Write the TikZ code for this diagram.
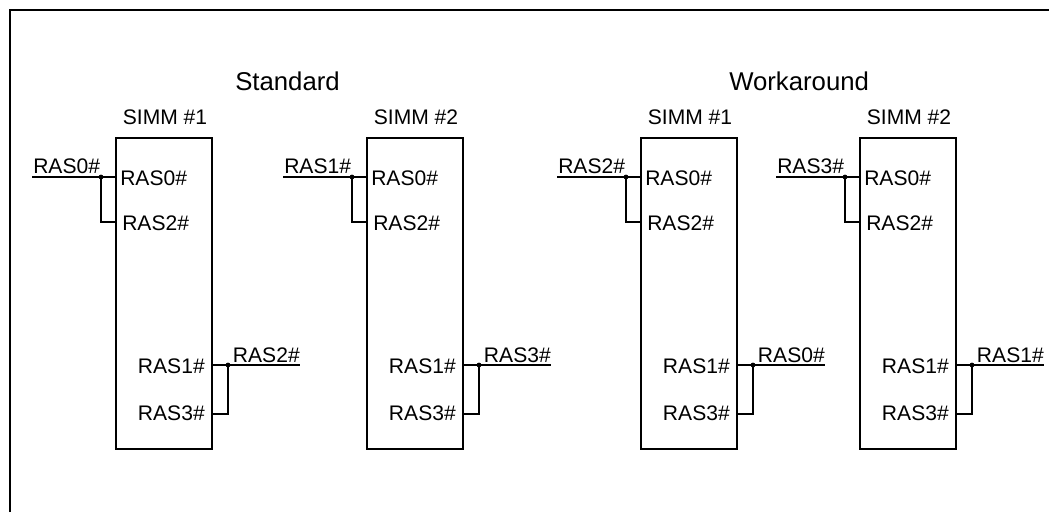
\documentclass[tikz,border=0pt]{standalone}
\usepackage{fontspec}
\setmainfont{Liberation Sans}
\usepackage{tikz}
\usetikzlibrary{positioning,calc}

\begin{document}
\begin{tikzpicture}[
  x=0.75pt, y=-0.75pt,
  simm/.style={draw, line width=1.3pt, outer sep=0pt, minimum width=72pt, minimum height=233.25pt, inner sep=0pt},
  wire/.style={line width=1.3pt},
  pin/.style={font=\fontsize{15.8pt}{18pt}\selectfont, inner sep=0pt},
  title/.style={font=\fontsize{19.3pt}{22pt}\selectfont, inner sep=0pt, anchor=base west},
  dot/.style={circle, fill, inner sep=0pt, minimum size=3.6pt}
]
\useasboundingbox (0,0) rectangle (1049,512);
% Frame
\coordinate (FTR) at (1049,10);
\coordinate (FTL) at (10,10);
\coordinate (FBL) at (10,512);
\draw[line width=1.5pt] (FBL) -- (FTL) -- (FTR);

% Group titles
\node[title] (Std) at (235,90) {Standard};
\node[title] (Wkd) at (729,90) {Workaround};

% Modules: name/number/left edge/input label/output label
\foreach \n/\num/\x/\inp/\outp in {A/1/116/RAS0\#/RAS2\#,B/2/367/RAS1\#/RAS3\#,C/1/641/RAS2\#/RAS0\#,D/2/860/RAS3\#/RAS1\#}{
  \node[simm, anchor=north west] (\n) at (\x,138) {};
  \node[pin, anchor=base] (\n title) at ($(\n.north)+(1,-14)$) {SIMM \#\num};
  % Left pins
  \coordinate (\n i0) at ($(\n.north west)+(0,39)$);
  \coordinate (\n i2) at ($(\n.north west)+(0,84)$);
  \node[pin, anchor=base west] (\n p0) at ($(\n i0)+(4,8)$) {RAS0\#};
  \node[pin, anchor=base west] (\n p2) at ($(\n i2)+(6,8)$) {RAS2\#};
  \coordinate (\n j) at ($(\n i0)+(-15,0)$);
  \coordinate (\n s) at ($(\n i0)+(-84,0)$);
  \node[dot] (\n jd) at (\n j) {};
  \node[pin, anchor=base west] (\n in) at ($(\n s)+(1,-3.5)$) {\inp};
  \draw[wire] (\n s) -- (\n i0);
  \draw[wire] (\n j) |- (\n i2);
  % Right pins
  \coordinate (\n o1) at ($(\n.south east)+(0,-84)$);
  \coordinate (\n o3) at ($(\n.south east)+(0,-35)$);
  \node[pin, anchor=base east] (\n p1) at ($(\n o1)+(-7,8)$) {RAS1\#};
  \node[pin, anchor=base east] (\n p3) at ($(\n o3)+(-7,6)$) {RAS3\#};
  \coordinate (\n k) at ($(\n o1)+(16,0)$);
  \coordinate (\n e) at ($(\n o1)+(88,0)$);
  \node[dot] (\n kd) at (\n k) {};
  \node[pin, anchor=base east] (\n out) at ($(\n e)+(0,-2.5)$) {\outp};
  \draw[wire] (\n o1) -- (\n e);
  \draw[wire] (\n k) |- (\n o3);
}
\end{tikzpicture}
\end{document}
